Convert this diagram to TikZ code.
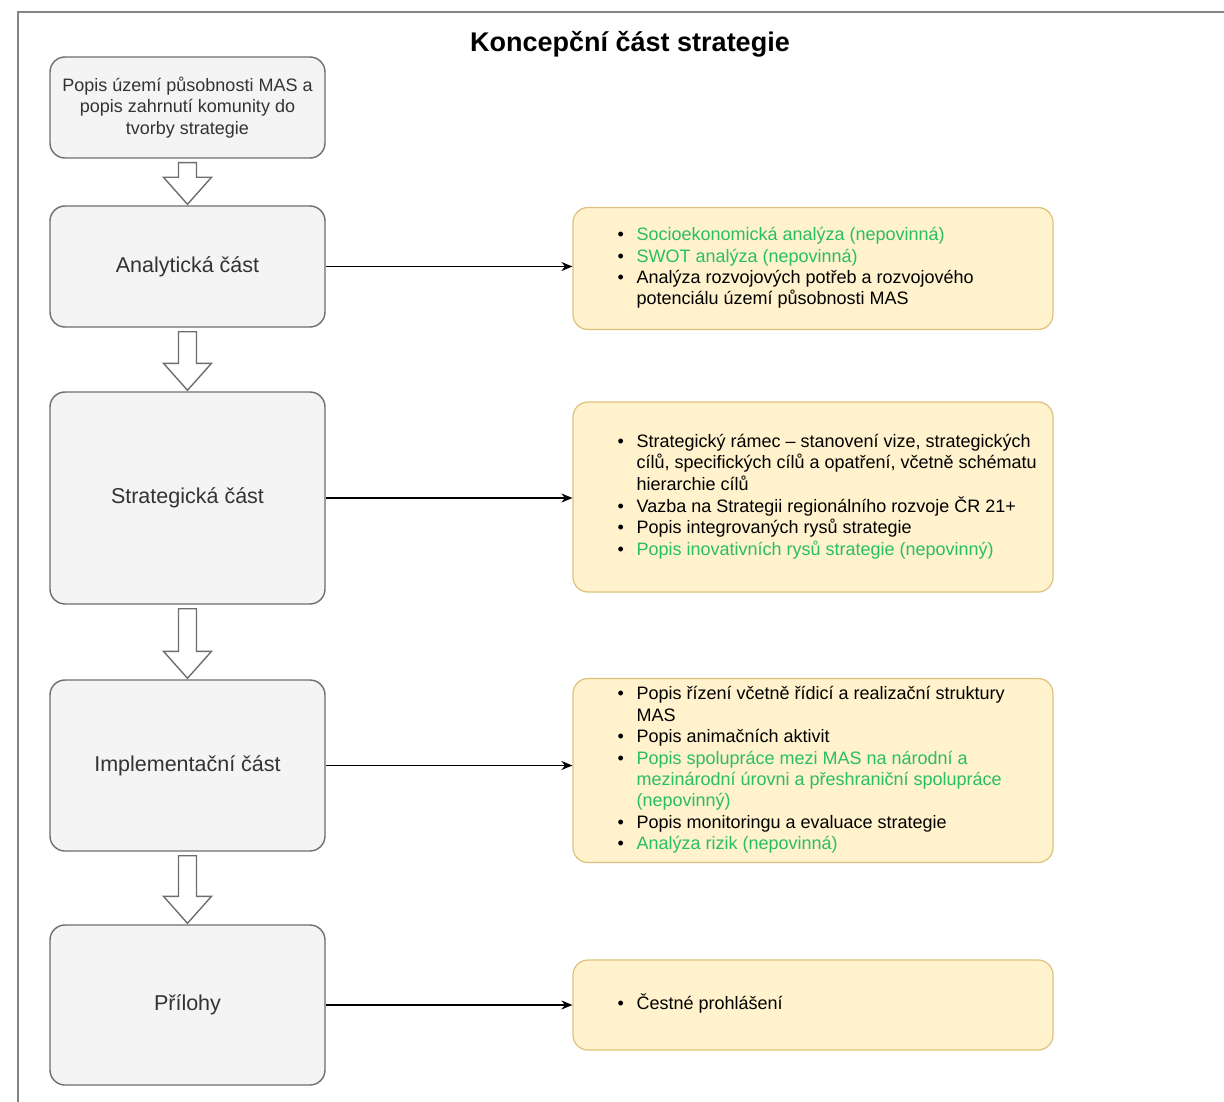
\documentclass[tikz,border=0pt]{standalone}
\usepackage{fontspec}
\setmainfont{Liberation Sans}
\usetikzlibrary{arrows.meta,calc}
\definecolor{gfill}{HTML}{F4F4F4}
\definecolor{gdraw}{HTML}{6E6E6E}
\definecolor{gtext}{HTML}{333333}
\definecolor{yfill}{HTML}{FFF2CC}
\definecolor{ydraw}{HTML}{DCC27A}
\definecolor{optg}{RGB}{40,190,100}
\definecolor{framec}{HTML}{858585}
\newcommand{\opt}[1]{\textcolor{optg}{#1}}
\newcommand{\blockarrow}[2]{%
  \draw[blockarr] ($(#1.south)+(-9,4)$) -- ($(#1.south)+(9,4)$) -- ($(#2.north)+(9,-28)$) -- ($(#2.north)+(24,-28)$) -- ($(#2.north)+(0,-1)$) -- ($(#2.north)+(-24,-28)$) -- ($(#2.north)+(-9,-28)$) -- cycle;}
\tikzset{
  graybox/.style={draw=gdraw, fill=gfill, line width=1.4pt, rounded corners=15pt,
    minimum width=275pt, text=gtext, align=center, inner sep=0pt,
    font=\fontsize{21.5}{25}\selectfont},
  yelbox/.style={draw=ydraw, fill=yfill, line width=1.2pt, rounded corners=15pt,
    minimum width=480pt, inner sep=0pt},
  ytext/.style={anchor=west, inner sep=0pt, text=black, align=left,
    font=\fontsize{18}{21.4}\selectfont},
  blockarr/.style={draw=gdraw, fill=white, line width=1.4pt, line join=miter},
  conn/.style={draw=black, line width=1.5pt, -{Stealth[length=11pt,width=9pt]}},
  framel/.style={draw=framec, line width=2pt},
  titlet/.style={font=\fontsize{27}{30}\selectfont\bfseries, text=black, inner sep=0pt}
}
\newcommand{\bl}{\textbullet}
\begin{document}
\begin{tikzpicture}[x=1pt,y=-1pt]
\useasboundingbox (0,0) rectangle (1224,1102);
\fill[white] (0,0) rectangle (1224,1102);
\draw[framel] (18,1102) -- (18,12) -- (1224,12);

\node[titlet] (title) at (630,44) {Koncepční část strategie};

\node[graybox, minimum height=101pt, font=\fontsize{18}{21.5}\selectfont] (b0) at (187.5,107.5)
  {Popis území působnosti MAS a\\popis zahrnutí komunity do\\tvorby strategie};
\node[graybox, minimum height=121pt] (b1) at (187.5,266.5) {Analytická část};
\node[graybox, minimum height=212pt] (b2) at (187.5,498) {Strategická část};
\node[graybox, minimum height=171pt] (b3) at (187.5,765.5) {Implementační část};
\node[graybox, minimum height=160pt] (b4) at (187.5,1005) {Přílohy};

\node[yelbox, minimum height=122pt] (y1) at (813,268.5) {};
\node[yelbox, minimum height=190pt] (y2) at (813,497) {};
\node[yelbox, minimum height=184pt] (y3) at (813,770.5) {};
\node[yelbox, minimum height=90pt] (y4) at (813,1005) {};

\node[ytext] (t1) at ($(y1.west)+(45,0)$) {%
\begin{tabular}{@{}p{19pt}@{}l@{}}
\bl & \opt{Socioekonomická analýza (nepovinná)}\\
\bl & \opt{SWOT analýza (nepovinná)}\\
\bl & Analýza rozvojových potřeb a rozvojového\\
    & potenciálu území působnosti MAS
\end{tabular}};

\node[ytext] (t2) at ($(y2.west)+(45,0)$) {%
\begin{tabular}{@{}p{19pt}@{}l@{}}
\bl & Strategický rámec – stanovení vize, strategických\\
    & cílů, specifických cílů a opatření, včetně schématu\\
    & hierarchie cílů\\
\bl & Vazba na Strategii regionálního rozvoje ČR 21+\\
\bl & Popis integrovaných rysů strategie\\
\bl & \opt{Popis inovativních rysů strategie (nepovinný)}
\end{tabular}};

\node[ytext] (t3) at ($(y3.west)+(45,0)$) {%
\begin{tabular}{@{}p{19pt}@{}l@{}}
\bl & Popis řízení včetně řídicí a realizační struktury\\
    & MAS\\
\bl & Popis animačních aktivit\\
\bl & \opt{Popis spolupráce mezi MAS na národní a}\\
    & \opt{mezinárodní úrovni a přeshraniční spolupráce}\\
    & \opt{(nepovinný)}\\
\bl & Popis monitoringu a evaluace strategie\\
\bl & \opt{Analýza rizik (nepovinná)}
\end{tabular}};

\node[ytext] (t4) at ($(y4.west)+(45,0)$) {%
\begin{tabular}{@{}p{19pt}@{}l@{}}
\bl & Čestné prohlášení
\end{tabular}};

\blockarrow{b0}{b1}
\blockarrow{b1}{b2}
\blockarrow{b2}{b3}
\blockarrow{b3}{b4}

\draw[conn] (b1.east) -- (b1.east -| y1.west);
\draw[conn] (b2.east) -- (b2.east -| y2.west);
\draw[conn] (b3.east) -- (b3.east -| y3.west);
\draw[conn] (b4.east) -- (b4.east -| y4.west);
\end{tikzpicture}
\end{document}
